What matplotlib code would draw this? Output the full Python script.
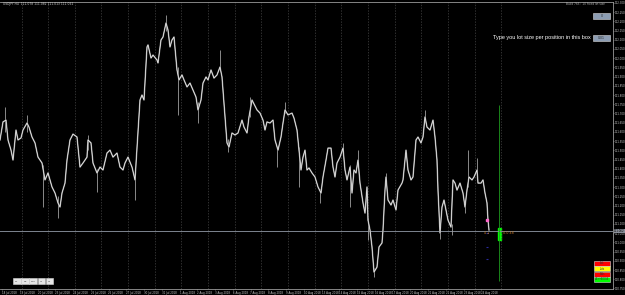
import numpy as np
import matplotlib
matplotlib.use('Agg')
import matplotlib.pyplot as plt
from matplotlib.patches import Rectangle

# ---- data (USDJPY, H4) ----
bar_x = [0, 3, 6, 8, 11, 13, 16, 18, 21, 23, 27, 29, 32, 35, 38, 42, 45, 48, 52, 55,
         58, 60, 62, 65, 67, 70, 73, 77, 80, 83, 87, 88, 91, 93, 97, 100, 103, 107, 110, 113,
         117, 120, 123,
         125, 128, 132, 135, 138, 140, 142, 144, 147, 148, 151, 153, 157, 158, 161, 163, 166, 168, 170, 172,
         174, 177, 179, 182, 184, 187, 190, 193, 196, 198, 201, 203, 206, 208, 211, 214, 217, 220, 222, 224,
         227, 229, 232, 235, 238, 242, 244, 247, 249, 252,
         257, 260, 263, 265, 267, 270, 273, 275, 278, 281, 283, 285, 288, 292, 294, 297, 299, 301, 303, 305,
         307, 309, 312, 315, 318, 321, 323, 326, 328, 331, 333, 335, 337, 340, 343, 345, 347, 350, 352, 354,
         356, 358, 360, 363, 365, 367, 368, 370,
         372, 374, 377, 379, 382, 383, 385, 386, 388, 391, 393, 396, 398, 402, 403, 406, 408, 411, 413, 416,
         418, 421, 423, 425, 427, 430, 433, 435, 437, 438, 440, 442, 444, 446, 448, 451, 453, 455, 457, 460,
         463, 465, 467, 469, 472, 474, 477, 478, 481, 483, 485, 487, 488, 489]

close = [111.556, 111.654, 111.664, 111.556, 111.501, 111.447, 111.610, 111.556, 111.567, 111.610,
         111.648, 111.626, 111.572, 111.540, 111.463, 111.431, 111.339, 111.377, 111.301, 111.268,
         111.214, 111.192, 111.268, 111.322, 111.447, 111.556, 111.588, 111.572, 111.409, 111.431,
         111.463, 111.556, 111.540, 111.431, 111.377, 111.409, 111.393, 111.485, 111.501, 111.463,
         111.485, 111.409, 111.393,
         111.431, 111.463, 111.409, 111.339, 111.594, 111.773, 111.800, 111.773, 112.061, 112.072,
         112.001, 112.017, 111.990, 111.974, 112.099, 112.115, 112.191, 112.153, 112.061, 112.099,
         112.115, 111.936, 111.882, 111.909, 111.882, 111.844, 111.865, 111.827, 111.789, 111.719,
         111.773, 111.865, 111.898, 111.882, 111.936, 111.892, 111.909, 111.952, 111.898, 111.757,
         111.540, 111.518, 111.594, 111.583, 111.594, 111.664, 111.626, 111.594, 111.681, 111.773,
         111.719, 111.702, 111.664, 111.610, 111.654, 111.648, 111.664, 111.556, 111.501, 111.572,
         111.648, 111.719, 111.692, 111.702, 111.675, 111.610, 111.501, 111.393, 111.463, 111.501,
         111.393, 111.404, 111.377, 111.355, 111.301, 111.268, 111.355, 111.447, 111.512, 111.512,
         111.409, 111.355, 111.431, 111.463, 111.512, 111.393, 111.339, 111.409, 111.268, 111.393,
         111.377, 111.447, 111.322, 111.214, 111.159, 111.301, 111.121, 111.067,
         110.975, 110.839, 110.866, 110.975, 110.997, 111.067, 111.284, 111.355, 111.230, 111.203,
         111.230, 111.176, 111.284, 111.322, 111.339, 111.501, 111.393, 111.339, 111.355, 111.556,
         111.572, 111.540, 111.572, 111.681, 111.626, 111.610, 111.664, 111.572, 111.447, 111.284,
         111.051, 111.192, 111.230, 111.176, 111.121, 111.083, 111.339, 111.322, 111.284, 111.322,
         111.268, 111.192, 111.284, 111.355, 111.339, 111.355, 111.393, 111.322, 111.322, 111.339,
         111.268, 111.214, 111.121, 111.067]

# spikes (bar, high, low)
wick_bar = [5, 27, 43, 58, 88, 97, 135, 166, 178, 198, 220, 228, 250, 277, 285, 299, 320, 343,
            350, 358, 368, 374, 386, 425, 440, 452, 465, 468, 477]
wick_hi = [111.735, 111.692, 111.420, 111.250, 111.583, 111.400, 111.400, 112.235, 111.950, 111.760,
           112.045, 111.560, 111.789, 111.520, 111.762, 111.520, 111.290, 111.540, 111.420, 111.501,
           111.130, 110.860, 111.377, 111.719, 111.080, 111.100, 111.200, 111.501, 111.458]
wick_lo = [111.600, 111.600, 111.192, 111.132, 111.500, 111.274, 111.230, 112.150, 111.692, 111.648,
           111.930, 111.491, 111.680, 111.409, 111.700, 111.301, 111.214, 111.480, 111.192, 111.420,
           111.013, 110.812, 111.330, 111.670, 111.018, 111.040, 111.159, 111.300, 111.390]

cur_bar = 499
cur_open = 111.078
cur_close = 111.013
bid = 111.062

price_ticks = [round(112.30 - 0.05 * i, 3) for i in range(32)]
dates = ['18 Jul 2018', '19 Jul 2018', '20 Jul 2018', '23 Jul 2018', '24 Jul 2018', '25 Jul 2018',
         '26 Jul 2018', '27 Jul 2018', '30 Jul 2018', '31 Jul 2018', '1 Aug 2018', '2 Aug 2018',
         '3 Aug 2018', '6 Aug 2018', '7 Aug 2018', '8 Aug 2018', '9 Aug 2018', '10 Aug 2018',
         '13 Aug 2018', '14 Aug 2018', '15 Aug 2018', '16 Aug 2018', '17 Aug 2018', '20 Aug 2018',
         '21 Aug 2018', '22 Aug 2018', '23 Aug 2018', '24 Aug 2018']
date_pos = [2 + 17.75 * i for i in range(len(dates))]
grid_pos = [21.5 + 26.65 * i for i in range(19)]

W, H = 625, 295
fig = plt.figure(figsize=(W / 100, H / 100), dpi=100, facecolor='black')
ax = fig.add_axes([0, 1 - 289 / H, 613 / W, 287 / H], facecolor='black')
ax.set_xlim(0, 613)
ax.set_ylim(110.747, 112.305)

for g in grid_pos:
    ax.axvline(g, color='#444444', lw=0.5, ls=(0, (2, 2)))

ax.axhline(bid, color='#7d8590', lw=0.7)

ax.vlines(wick_bar, wick_lo, wick_hi, color='#a0a0a0', lw=0.6)
ax.plot(bar_x, close, color='#7a7a7a', lw=1.1)
ax.plot(bar_x, close, color='white', lw=0.45)

# current bar + indicator stuff
ax.vlines(cur_bar, 110.790, 111.746, color='#1f9a1f', lw=0.6)
ax.add_patch(Rectangle((cur_bar - 1.5, cur_close), 3, cur_open - cur_close, color='#00ff00'))
ax.plot([487, 487, 487], [111.051, 110.975, 110.910], ls='none', marker='_', ms=2,
        color='#2a2aa0', mew=0.8)
ax.plot([487], [111.122], ls='none', marker='s', ms=1.5, color='#ff66cc')
ax.text(484, bid - 0.012, '4 \u25c2', color='#c87a28', fontsize=2.4, va='center')
ax.text(503, bid - 0.012, '0.0 48', color='#c87a28', fontsize=2.4, va='center')

ax.spines['left'].set_visible(False)
for s in ['top', 'right', 'bottom']:
    ax.spines[s].set_color('#9a9a9a')
    ax.spines[s].set_linewidth(0.6)

ax.yaxis.tick_right()
ax.set_yticks(price_ticks)
ax.set_yticklabels([f'{p:.3f}' for p in price_ticks])
ax.set_xticks(date_pos)
ax.set_xticklabels(dates, ha='left')
ax.tick_params(axis='both', colors='#9a9a9a', labelcolor='#c8c8c8', labelsize=1.9,
               length=1.0, width=0.4, pad=0.4)

# current price label on the axis
fig.text(614 / W, 1 - 231 / H, f'{bid:.3f}', fontsize=1.9, color='black', va='center',
         bbox=dict(boxstyle='square,pad=0.15', fc='#8a8f99', ec='none'))

# header text
fig.text(3 / W, 1 - 4 / H, 'USDJPY,H4  111.078 111.082 111.013 111.062', fontsize=2.2,
         color='#d0d0d0', va='center')
fig.text(605 / W, 1 - 4 / H, 'Build 765 : 10 Fixed lot size', fontsize=2.1,
         color='#b0b0b0', va='center', ha='right')

# lot size widgets
def button(px, py, w, h, label, fc='#8c9db3', tc='#202020', fs=2.2):
    fig.patches.append(Rectangle((px / W, 1 - (py + h) / H), w / W, h / H, transform=fig.transFigure,
                                 fc=fc, ec='#d8d8d8', lw=0.4))
    fig.text((px + w / 2) / W, 1 - (py + h / 2) / H, label, fontsize=fs, color=tc,
             ha='center', va='center')

button(593, 13, 17, 6, '0')
button(593, 35, 17, 6, '0.01')
fig.text(591 / W, 1 - 38 / H, 'Type you lot size per position in this box', fontsize=3.95,
         color='white', ha='right', va='center', family='Liberation Sans')

for i, (lab, c) in enumerate(zip(['Ask', 'Lots', 'Bids', 'ZX+HEDGE'],
                                 ['#ff0000', '#ffff00', '#ff0000', '#00ff00'])):
    button(594, 261 + 5.3 * i, 16, 5, lab, fc=c, tc='#303030', fs=1.8)

for i, lab in enumerate(['M1', 'M5', 'M15', 'H1', 'H4']):
    button(13 + 8.2 * i, 278, 7.5, 6, lab, fc='#e6e6e6', tc='#303030', fs=1.6)

fig.savefig('out.png', dpi=100, facecolor='black')
